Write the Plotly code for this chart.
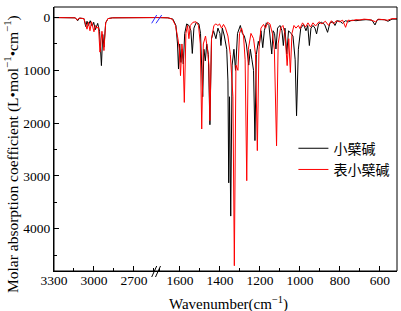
import plotly.graph_objects as go

# ---- data (wavenumber cm^-1, molar absorption coefficient) ----
black_left = [(3300, 0), (3140, 5), (3122, 60), (3108, 10), (3075, 20), (3062, 170), (3052, 70),
              (3042, 150), (3028, 60), (3014, 160), (3002, 90), (2990, 230), (2972, 110),
              (2958, 260), (2944, 910), (2934, 320), (2925, 560), (2912, 100), (2895, 20),
              (2860, 5), (2527, 0)]
red_left = [(3300, 0), (3140, 5), (3126, 50), (3112, 10), (3075, 20), (3052, 220), (3042, 90),
            (3030, 250), (3018, 80), (3000, 270), (2990, 150), (2978, 200), (2966, 180),
            (2955, 655), (2940, 260), (2925, 625), (2912, 100), (2895, 20), (2860, 5), (2527, 0)]
black_right = [(1715, 0), (1660, 5), (1635, 30), (1620, 150), (1612, 500), (1607, 975), (1601, 500),
               (1595, 850), (1589, 600), (1583, 880), (1576, 300), (1566, 120), (1555, 150),
               (1545, 250), (1538, 680), (1530, 200), (1518, 90), (1505, 120), (1497, 300),
               (1490, 900), (1486, 1500), (1480, 600), (1473, 820), (1466, 500), (1458, 700),
               (1450, 2030), (1442, 400), (1432, 250), (1420, 400), (1410, 200), (1400, 300),
               (1395, 530), (1388, 200), (1378, 350), (1366, 600), (1360, 1200), (1356, 3130),
               (1352, 1500), (1346, 3760), (1339, 900), (1330, 600), (1322, 1000), (1312, 300),
               (1298, 150), (1288, 300), (1278, 350), (1268, 500), (1256, 900), (1248, 600),
               (1240, 800), (1232, 1000), (1225, 2330), (1218, 700), (1208, 450), (1203, 530),
               (1195, 250), (1186, 570), (1178, 250), (1168, 100), (1155, 150), (1147, 400),
               (1141, 690), (1134, 250), (1127, 300), (1120, 595), (1112, 200), (1100, 150),
               (1090, 250), (1083, 530), (1075, 200), (1066, 690), (1057, 250), (1045, 300),
               (1035, 350), (1024, 800), (1017, 1860), (1008, 600), (996, 200), (982, 130),
               (970, 250), (961, 150), (953, 530), (945, 200), (935, 150), (925, 200), (917, 310),
               (907, 120), (893, 90), (877, 130), (862, 280), (850, 100), (836, 80), (825, 150),
               (814, 60), (800, 70), (788, 110), (772, 60), (757, 80), (740, 50), (720, 60),
               (700, 50), (670, 40), (640, 50), (625, 140), (613, 40), (598, 35), (578, 40),
               (560, 70), (540, 30), (515, 30)]
red_right = [(1715, 0), (1660, 5), (1638, 30), (1622, 150), (1610, 400), (1603, 600), (1597, 1100),
             (1590, 500), (1584, 750), (1578, 1607), (1570, 300), (1562, 150), (1555, 400),
             (1548, 150), (1535, 90), (1520, 80), (1507, 150), (1498, 500), (1491, 2110),
             (1483, 500), (1472, 350), (1462, 600), (1455, 900), (1450, 1950), (1442, 400),
             (1430, 150), (1420, 120), (1410, 150), (1402, 120), (1392, 200), (1382, 130),
             (1372, 200), (1360, 350), (1348, 700), (1335, 1500), (1328, 4700), (1320, 900),
             (1310, 1000), (1302, 300), (1292, 200), (1282, 350), (1274, 800), (1266, 3090),
             (1258, 600), (1245, 300), (1232, 400), (1222, 700), (1213, 2520), (1205, 600),
             (1195, 200), (1182, 130), (1172, 200), (1162, 90), (1150, 120), (1138, 300),
             (1128, 600), (1117, 2430), (1109, 500), (1097, 200), (1085, 150), (1075, 300),
             (1064, 910), (1056, 400), (1048, 1040), (1040, 300), (1030, 150), (1020, 200),
             (1008, 150), (1000, 210), (987, 100), (972, 180), (960, 100), (947, 180), (935, 100),
             (922, 160), (905, 80), (890, 120), (873, 70), (857, 150), (843, 60), (832, 120),
             (818, 60), (802, 80), (787, 50), (772, 185), (760, 50), (740, 60), (720, 40),
             (700, 45), (680, 30), (650, 40), (622, 80), (607, 30), (580, 35), (562, 50),
             (540, 20), (515, 20)]

series_names = ["小檗碱", "表小檗碱"]
series_colors = ["#000000", "#ff0000"]

left_ticks = [3300, 3000, 2700]
left_minor = [3150, 2850, 2550]
right_ticks = [1600, 1400, 1200, 1000, 800, 600]
right_minor = [1700, 1500, 1300, 1100, 900, 700]
y_ticks = [0, 1000, 2000, 3000, 4000]
y_minor = [500, 1500, 2500, 3500, 4500]


def unzip(pairs):
    return [p[0] for p in pairs], [p[1] for p in pairs]


fig = go.Figure()
for name, color, left, right in [(series_names[0], series_colors[0], black_left, black_right),
                                 (series_names[1], series_colors[1], red_left, red_right)]:
    lx, ly = unzip(left)
    rx, ry = unzip(right)
    fig.add_trace(go.Scatter(x=lx, y=ly, mode="lines", line=dict(color=color, width=1),
                             xaxis="x", yaxis="y", name=name, showlegend=False, legendgroup=name))
    fig.add_trace(go.Scatter(x=rx, y=ry, mode="lines", line=dict(color=color, width=1),
                             xaxis="x2", yaxis="y", name=name, showlegend=True, legendgroup=name))

SERIF = "Liberation Serif, Times New Roman, serif"
tickfont = dict(family=SERIF, size=13.5, color="black")
B = 0.3
common_x = dict(showgrid=False, zeroline=False, showline=True, linecolor="black", linewidth=1,
                ticks="inside", ticklen=5, tickcolor="black", tickfont=tickfont, tickmode="array",
                ticklabelstandoff=-3)
fig.update_layout(
    width=401, height=311,
    margin=dict(l=54, r=4, t=7, b=40),
    paper_bgcolor="white", plot_bgcolor="white",
    xaxis=dict(domain=[0, B], range=[3300, 2527.5], tickvals=left_ticks,
               minor=dict(tickvals=left_minor, ticks="inside", ticklen=3, tickcolor="black"),
               anchor="y", **common_x),
    xaxis2=dict(domain=[B, 1], range=[1715, 515], tickvals=right_ticks,
                minor=dict(tickvals=right_minor, ticks="inside", ticklen=3, tickcolor="black"),
                anchor="y", **common_x),
    yaxis=dict(range=[4800, -200], tickmode="array", tickvals=y_ticks, showgrid=False,
               zeroline=False, showline=True, linecolor="black", linewidth=1, ticks="inside",
               ticklen=5, tickcolor="black", tickfont=tickfont,
               minor=dict(tickvals=y_minor, ticks="inside", ticklen=3, tickcolor="black")),
    legend=dict(x=0.698, y=0.524, xanchor="left", yanchor="top", bgcolor="rgba(0,0,0,0)",
                font=dict(family="Noto Sans CJK SC", size=14, color="black"),
                tracegroupgap=0, itemwidth=30),
    showlegend=True,
)

# frame
fig.add_shape(type="rect", xref="paper", yref="paper", x0=0, x1=1, y0=0, y1=1,
              line=dict(color="black", width=1), fillcolor="rgba(0,0,0,0)")

# break marks
H = 264.0
W = 343.0
def px(x):
    return (x - 54) / W
def py(y):
    return (271 - y) / H

for (x0, y0, x1, y1) in [(151.7, 23.3, 156.7, 15), (156, 23.3, 161.7, 15)]:
    fig.add_shape(type="line", xref="paper", yref="paper", x0=px(x0), y0=py(y0),
                  x1=px(x1), y1=py(y1), line=dict(color="#2b2bff", width=1))
for (x0, y0, x1, y1) in [(151.7, 277, 156.7, 266), (155.5, 277, 160.5, 266)]:
    fig.add_shape(type="line", xref="paper", yref="paper", x0=px(x0), y0=py(y0),
                  x1=px(x1), y1=py(y1), line=dict(color="black", width=1))

# axis titles
fig.add_annotation(text="Molar absorption coefficient (L•mol<sup>−1</sup>•cm<sup>−1</sup>)",
                   xref="paper", yref="paper", x=px(11), y=py(154), textangle=-90,
                   xanchor="center", yanchor="middle",
                   showarrow=False, font=dict(family=SERIF, size=15.5, color="black"))
fig.add_annotation(text="Wavenumber(cm<sup>−1</sup>)", xref="paper", yref="paper",
                   x=px(228), y=py(292), xanchor="center", yanchor="top", showarrow=False,
                   font=dict(family=SERIF, size=15, color="black"))

fig.write_html("out.html", post_script="document.body.style.margin='0';",
               config={"displayModeBar": False})
